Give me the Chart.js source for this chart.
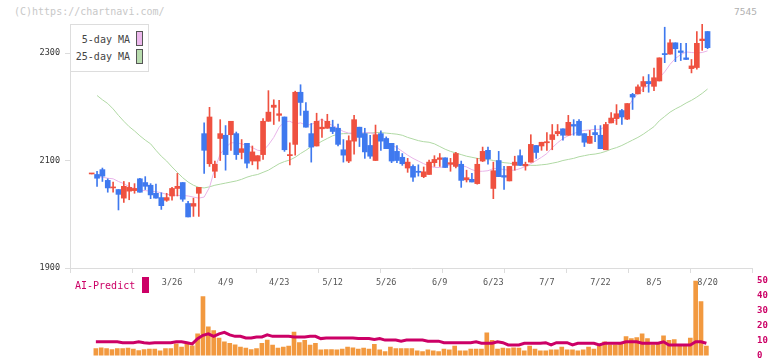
<!DOCTYPE html>
<html>
<head>
<meta charset="utf-8">
<script src="https://cdn.jsdelivr.net/npm/chart.js@4"></script>
<style>
  body { margin: 0; background: #fff; width: 772px; height: 361px; overflow: hidden; position: relative;
         font-family: "DejaVu Sans Mono", monospace; }
  canvas { position: absolute; left: 0; }
  #price { top: 0; }
  #vol { top: 270px; }
  .copy { position: absolute; left: 14px; top: 6px; font-size: 10px; line-height: 12px; color: #c8c8c8; }
  .code { position: absolute; right: 15px; top: 6px; font-size: 9.5px; line-height: 12px; color: #b0b0b0; }
  .legend { position: absolute; left: 70px; top: 24px; width: 77px; height: 46px; border: 1px solid #ddd;
            background: #fff; z-index: 2; }
  .legend .txt { position: absolute; right: 18px; font-size: 10px; line-height: 10px; color: #444; white-space: nowrap; }
  .legend .sw { position: absolute; left: 65px; width: 5px; height: 13px; border: 1px solid #555; }
  .ai { position: absolute; left: 75px; top: 281px; font-size: 10px; line-height: 10px; color: #cc0066; z-index: 2; }
  .ai-sw { position: absolute; left: 142px; top: 277px; width: 7px; height: 16px; background: #cc0066; z-index: 2; }
</style>
</head>
<body>
<div class="copy">(C)https://chartnavi.com/</div>
<div class="code">7545</div>
<canvas id="price" width="772" height="300"></canvas>
<canvas id="vol" width="772" height="96"></canvas>
<div class="legend">
  <div class="txt" style="top:10px">5-day MA</div><span class="sw" style="top:6px;background:#ecb8ec"></span>
  <div class="txt" style="top:27px">25-day MA</div><span class="sw" style="top:24px;background:#b8dcae"></span>
</div>
<div class="ai">AI-Predict</div><div class="ai-sw"></div>

<script>
// axis labels
const dateTicks = [15, 25, 35, 45, 55, 65, 75, 85, 95, 105, 115];
const dateLabels = ['3/26', '4/9', '4/23', '5/12', '5/26', '6/9', '6/23', '7/7', '7/22', '8/5', '8/20'];
const priceTicks = [1900, 2100, 2300];
const volTicks = [0, 10, 20, 30, 40, 50];

// daily candles (index 0 = first shown day)
const opens = [
  2075, 2074, 2083, 2063, 2049, 2046, 2030, 2043, 2044, 2066,
  2059, 2054, 2039, 2031, 2026, 2034, 2048, 2059, 2020, 2015,
  2039, 2150, 2094, 2080, 2141, 2147, 2148, 2150, 2115, 2132,
  2099, 2099, 2111, 2173, 2199, 2184, 2181, 2109, 2130, 2227,
  2192, 2150, 2127, 2159, 2160, 2162, 2160, 2120, 2099, 2136,
  2162, 2150, 2128, 2100, 2150, 2141, 2132, 2117, 2106, 2086,
  2089, 2080, 2070, 2074, 2096, 2102, 2105, 2093, 2089, 2093,
  2064, 2065, 2057, 2099, 2119, 2048, 2100, 2072, 2062, 2091,
  2109, 2090, 2097, 2128, 2127, 2133, 2139, 2150, 2159, 2147,
  2167, 2173, 2150, 2132, 2152, 2147, 2120, 2170, 2178, 2193,
  2177, 2223, 2224, 2238, 2247, 2238, 2248, 2299, 2298, 2319,
  2304, 2291, 2271, 2273, 2323, 2340
];
const highs = [
  2076, 2080, 2086, 2066, 2060, 2046, 2061, 2059, 2057, 2067,
  2070, 2057, 2056, 2040, 2039, 2050, 2076, 2059, 2024, 2030,
  2050, 2170, 2199, 2099, 2176, 2165, 2173, 2153, 2139, 2132,
  2127, 2109, 2178, 2230, 2213, 2212, 2181, 2133, 2229, 2241,
  2208, 2169, 2188, 2177, 2186, 2175, 2168, 2139, 2146, 2184,
  2162, 2160, 2147, 2166, 2155, 2144, 2132, 2128, 2113, 2104,
  2092, 2092, 2088, 2101, 2109, 2113, 2105, 2104, 2115, 2099,
  2082, 2076, 2104, 2125, 2125, 2097, 2117, 2089, 2089, 2108,
  2120, 2097, 2148, 2128, 2134, 2152, 2167, 2167, 2159, 2184,
  2176, 2176, 2150, 2156, 2165, 2165, 2171, 2189, 2204, 2195,
  2206, 2225, 2241, 2256, 2260, 2272, 2291, 2348, 2325, 2319,
  2318, 2318, 2288, 2340, 2355, 2340
];
const lows = [
  2075, 2052, 2061, 2041, 2041, 2008, 2022, 2027, 2039, 2041,
  2046, 2029, 2030, 2009, 2024, 2026, 2034, 2024, 1995, 1996,
  1996, 2076, 2089, 2068, 2100, 2082, 2119, 2102, 2103, 2086,
  2092, 2084, 2102, 2173, 2167, 2173, 2117, 2092, 2110, 2184,
  2162, 2097, 2127, 2143, 2160, 2150, 2127, 2097, 2096, 2112,
  2126, 2104, 2104, 2100, 2119, 2122, 2096, 2096, 2091, 2078,
  2061, 2071, 2068, 2074, 2089, 2089, 2087, 2080, 2086, 2050,
  2060, 2060, 2056, 2098, 2093, 2029, 2070, 2046, 2062, 2082,
  2091, 2082, 2097, 2104, 2119, 2119, 2120, 2146, 2138, 2147,
  2147, 2147, 2126, 2132, 2135, 2122, 2120, 2170, 2167, 2167,
  2176, 2195, 2224, 2228, 2227, 2230, 2248, 2282, 2298, 2284,
  2286, 2288, 2263, 2270, 2305, 2308
];
const closes = [
  2076, 2067, 2071, 2049, 2050, 2037, 2052, 2050, 2048, 2041,
  2052, 2036, 2030, 2016, 2031, 2048, 2052, 2028, 1995, 2020,
  2050, 2119, 2181, 2093, 2150, 2111, 2173, 2111, 2122, 2095,
  2116, 2109, 2173, 2190, 2203, 2187, 2120, 2111, 2227, 2208,
  2162, 2125, 2173, 2162, 2173, 2154, 2130, 2110, 2137, 2176,
  2143, 2116, 2108, 2148, 2136, 2122, 2099, 2100, 2094, 2097,
  2069, 2078, 2079, 2097, 2102, 2105, 2087, 2096, 2113, 2063,
  2068, 2060, 2093, 2117, 2103, 2081, 2070, 2069, 2089, 2097,
  2091, 2093, 2130, 2115, 2134, 2135, 2148, 2154, 2147, 2171,
  2164, 2147, 2134, 2145, 2148, 2122, 2167, 2179, 2187, 2181,
  2206, 2218, 2237, 2247, 2243, 2254, 2291, 2297, 2319, 2308,
  2301, 2288, 2276, 2318, 2326, 2310
];

// moving averages as drawn
const ma5 = [
  null, 2070, 2069, 2067, 2066, 2061, 2057, 2051, 2048, 2045,
  2044, 2043, 2042, 2040, 2037, 2036, 2035, 2035, 2034, 2032,
  2030, 2032, 2050, 2085, 2112, 2124, 2133, 2133, 2131, 2128,
  2124, 2119, 2118, 2129, 2143, 2162, 2172, 2173, 2168, 2170,
  2166, 2167, 2172, 2177, 2170, 2165, 2160, 2154, 2151, 2151,
  2151, 2152, 2152, 2149, 2141, 2134, 2129, 2124, 2117, 2110,
  2104, 2099, 2094, 2090, 2087, 2087, 2089, 2092, 2094, 2091,
  2088, 2083, 2080, 2080, 2081, 2085, 2085, 2083, 2082, 2082,
  2085, 2089, 2094, 2100, 2106, 2113, 2124, 2133, 2141, 2146,
  2150, 2154, 2156, 2157, 2158, 2158, 2164, 2171, 2176, 2184,
  2197, 2213, 2225, 2234, 2240, 2247, 2254, 2265, 2279, 2290,
  2297, 2302, 2301, 2300, 2301, 2304
];
const ma25 = [
  null, 2221, 2213, 2206, 2196, 2184, 2173, 2163, 2155, 2146,
  2138, 2131, 2119, 2108, 2099, 2088, 2078, 2068, 2060, 2054,
  2050, 2049, 2051, 2054, 2056, 2058, 2060, 2062, 2065, 2069,
  2072, 2074, 2078, 2082, 2088, 2094, 2098, 2101, 2106, 2113,
  2119, 2126, 2130, 2136, 2141, 2146, 2149, 2150, 2150, 2150,
  2150, 2151, 2151, 2152, 2152, 2151, 2150, 2149, 2147, 2143,
  2140, 2137, 2135, 2134, 2131, 2126, 2121, 2117, 2114, 2111,
  2108, 2106, 2104, 2103, 2102, 2100, 2098, 2096, 2095, 2093,
  2091, 2091, 2091, 2091, 2092, 2093, 2095, 2097, 2100, 2102,
  2104, 2107, 2109, 2111, 2112, 2114, 2117, 2121, 2124, 2128,
  2133, 2138, 2143, 2149, 2156, 2163, 2174, 2182, 2190, 2196,
  2201, 2207, 2212, 2218, 2225, 2233
];

// lower panel
const volume = [
  null, 4.6, 5.2, 4.6, 4.0, 4.6, 4.6, 5.0, 4.4, 3.4,
  4.0, 4.4, 4.4, 3.1, 4.6, 4.6, 7.8, 5.7, 7.8, 6.5,
  14.5, 39.2, 19.1, 16.6, 11.7, 9.2, 8.2, 7.1, 5.7, 5.0,
  4.0, 4.6, 8.2, 10.3, 7.0, 5.0, 5.7, 6.3, 15.7, 8.6,
  10.1, 7.0, 8.2, 3.8, 4.0, 4.0, 3.8, 4.4, 5.7, 5.2,
  4.4, 5.0, 4.4, 7.5, 3.8, 2.6, 5.7, 4.6, 4.6, 4.6,
  4.6, 3.1, 2.6, 3.8, 3.1, 2.6, 4.4, 3.8, 6.3, 3.1,
  3.1, 4.4, 4.4, 4.4, 15.1, 10.1, 4.4, 5.0, 4.6, 5.2,
  5.0, 3.1, 6.3, 4.4, 3.1, 3.1, 3.8, 3.8, 5.7, 3.8,
  3.8, 3.1, 3.8, 5.7, 4.4, 7.1, 9.2, 7.1, 7.1, 8.8,
  12.6, 11.3, 11.9, 14.5, 11.3, 7.1, 7.5, 13.2, 10.1, 10.7,
  7.1, 7.1, 11.7, 49.7, 35.9, 6.3
];
const aiPredict = [
  null, 9.2, 9.2, 9.2, 9.2, 9.2, 8.6, 8.6, 8.6, 9.2,
  8.6, 8.2, 8.6, 8.6, 8.6, 8.6, 9.2, 9.2, 8.6, 7.8,
  11.3, 13.5, 14.5, 12.8, 14.5, 15.5, 13.8, 12.8, 12.8, 11.7,
  11.7, 12.4, 12.4, 13.8, 12.8, 12.8, 12.8, 12.8, 12.4, 12.4,
  12.4, 12.8, 12.8, 11.3, 11.7, 11.7, 11.7, 11.7, 11.7, 11.7,
  11.3, 11.3, 11.3, 10.7, 11.3, 10.3, 10.3, 10.3, 9.6, 10.3,
  10.3, 10.3, 10.3, 9.6, 9.6, 9.6, 8.6, 8.6, 8.6, 8.6,
  8.6, 8.6, 9.2, 8.2, 8.2, 8.2, 9.2, 8.6, 7.1, 7.1,
  7.1, 8.2, 8.2, 8.2, 8.2, 8.6, 7.1, 8.6, 8.6, 8.6,
  7.1, 8.2, 8.2, 8.2, 8.2, 7.1, 8.2, 8.2, 8.2, 8.2,
  9.2, 9.2, 9.2, 8.2, 8.2, 8.2, 8.2, 9.2, 7.1, 7.1,
  7.1, 7.1, 7.1, 9.2, 9.2, 8.2
];

const UP = '#ef5140';
const DOWN = '#3f79ef';
const X_MIN = -4.05;
const X_MAX = 123.3;
const MONO = 'DejaVu Sans Mono';

Chart.defaults.font.family = MONO;

function pts(arr) {
    return arr.map((v, i) => (v == null ? null : { x: i, y: v })).filter(Boolean);
}

function fixedTicks(list) {
    return scale => { scale.ticks = list.map(v => ({ value: v })); };
}

const candleColors = closes.map((c, i) => (c >= opens[i] ? UP : DOWN));
const wicks = highs.map((h, i) => ({ x: i, y: [lows[i], h] }));
const bodies = opens.map((o, i) => ({ x: i, y: [o, closes[i]] }));

function setupPrice() {
    new Chart(document.getElementById('price'), {
        type: 'bar',
        data: {
            datasets: [
                { type: 'line', data: pts(ma25), borderColor: '#b0d9a4', borderWidth: 1, pointRadius: 0, xAxisID: 'x', yAxisID: 'y', order: 4 },
                { type: 'line', data: pts(ma5), borderColor: '#e9b4e9', borderWidth: 1, pointRadius: 0, xAxisID: 'x', yAxisID: 'y', order: 3 },
                { data: wicks, backgroundColor: candleColors, barThickness: 1, grouped: false, xAxisID: 'x', yAxisID: 'y', order: 2 },
                { data: bodies, backgroundColor: candleColors, barThickness: 5, minBarLength: 1, grouped: false, xAxisID: 'x', yAxisID: 'y', order: 1 }
            ]
        },
        options: {
            responsive: false,
            animation: false,
            events: [],
            layout: { padding: { top: 24, right: 20, left: 0, bottom: 0 } },
            plugins: { legend: { display: false }, tooltip: { enabled: false } },
            scales: {
                x: {
                    type: 'linear', min: X_MIN, max: X_MAX, offset: false,
                    afterBuildTicks: s => {
                        s.ticks = Array.from({ length: 12 }, (_, k) => ({ value: X_MIN + k * (X_MAX - X_MIN) / 11 }));
                    },
                    ticks: { display: false },
                    grid: { drawOnChartArea: false, tickLength: 5, color: '#dcdcdc', offset: false },
                    border: { color: '#dcdcdc' },
                    afterFit: s => { s.height = 5; }
                },
                xd: {
                    type: 'linear', position: 'bottom', weight: 1, min: X_MIN, max: X_MAX, offset: false,
                    afterBuildTicks: fixedTicks(dateTicks),
                    ticks: { callback: (v, i) => dateLabels[i], autoSkip: false, maxRotation: 0,
                             color: '#555', padding: 5, font: { size: 8.5 } },
                    grid: { display: false, drawTicks: false, offset: false },
                    border: { display: false },
                    afterFit: s => { s.height = 27; }
                },
                y: {
                    type: 'linear', min: 1900, max: 2354,
                    afterBuildTicks: fixedTicks(priceTicks),
                    ticks: { color: '#333', padding: 5, font: { size: 8.5 }, callback: v => String(v) },
                    grid: { drawOnChartArea: false, tickLength: 5, color: '#dcdcdc' },
                    border: { color: '#dcdcdc' },
                    afterFit: s => { s.width = 70; }
                }
            }
        }
    });
}

function setupVolume() {
    new Chart(document.getElementById('vol'), {
        type: 'bar',
        data: {
            datasets: [
                { type: 'line', data: pts(aiPredict), borderColor: '#cc0066', borderWidth: 3, pointRadius: 0, order: 1 },
                { data: pts(volume), backgroundColor: '#f2993f', barThickness: 4, order: 2 }
            ]
        },
        options: {
            responsive: false,
            animation: false,
            events: [],
            layout: { padding: { top: 8, right: 0, left: 70, bottom: 7 } },
            plugins: { legend: { display: false }, tooltip: { enabled: false } },
            scales: {
                x: { type: 'linear', display: false, offset: false, min: X_MIN + 0.22, max: X_MAX + 0.22 },
                y: {
                    position: 'right', min: 0, max: 50,
                    afterBuildTicks: fixedTicks(volTicks),
                    ticks: { color: '#cc0066', padding: 5, font: { size: 9, weight: 'bold' } },
                    grid: { display: false, drawTicks: false },
                    border: { display: false },
                    afterFit: s => { s.width = 20; }
                }
            }
        }
    });
}

setupPrice();
setupVolume();
</script>
</body>
</html>
